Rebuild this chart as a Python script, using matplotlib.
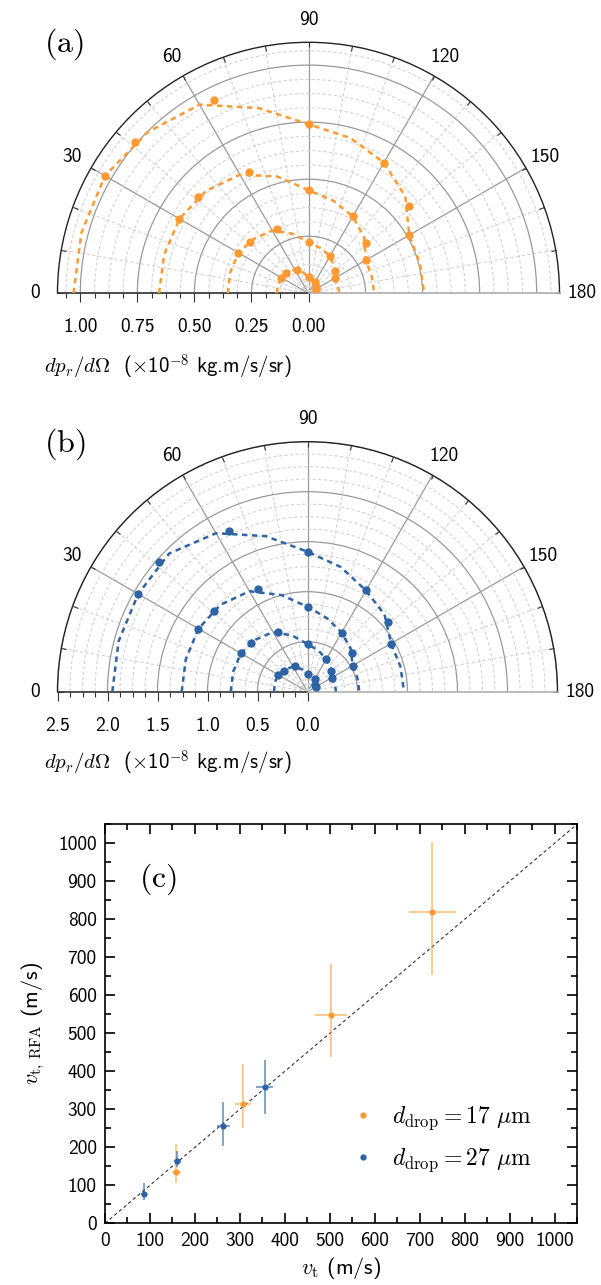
import numpy as np
import matplotlib
matplotlib.use('Agg')
import matplotlib.pyplot as plt
from matplotlib.ticker import MultipleLocator

plt.rcParams['font.family'] = ['cmss10', 'DejaVu Sans']
plt.rcParams['mathtext.fontset'] = 'cm'
plt.rcParams['axes.unicode_minus'] = False

ORANGE = '#ff9a33'
BLUE = '#2e64a5'

# ---------------- data: panel (a) ----------------
angles_pts = [30, 41, 64, 90, 120, 139, 150]
a_r1 = [1.031, 1.009, 0.941, 0.741, 0.661, 0.583, 0.508]
a_r2 = [0.653, 0.644, 0.591, 0.452, 0.389, 0.333, 0.290]
a_r3 = [0.355, 0.342, 0.313, 0.224, 0.189, 0.152, 0.135]
a_r4 = [0.138, 0.133, 0.116, 0.073, 0.059, 0.045, 0.038]

angles_fit = [0, 15, 30, 45, 60, 75, 90, 105, 120, 135, 150, 165, 180]
a_fit1 = [1.030, 1.030, 1.030, 0.998, 0.955, 0.840, 0.741, 0.705, 0.661, 0.600, 0.510, 0.505, 0.507]
a_fit2 = [0.655, 0.655, 0.653, 0.635, 0.600, 0.530, 0.452, 0.420, 0.389, 0.345, 0.290, 0.287, 0.288]
a_fit3 = [0.354, 0.355, 0.355, 0.338, 0.318, 0.270, 0.224, 0.205, 0.189, 0.160, 0.135, 0.134, 0.135]
a_fit4 = [0.139, 0.139, 0.138, 0.131, 0.120, 0.095, 0.073, 0.066, 0.059, 0.048, 0.038, 0.037, 0.037]

# ---------------- data: panel (b) ----------------
b_r1 = [1.952, 1.972, 1.792, 1.400, 1.169, 1.065, 0.963]
b_r2 = [1.259, 1.237, 1.140, 0.850, 0.683, 0.585, 0.524]
b_r3 = [0.770, 0.743, 0.667, 0.477, 0.376, 0.315, 0.282]
b_r4 = [0.342, 0.318, 0.283, 0.177, 0.143, 0.104, 0.095]

b_fit1 = [1.952, 1.955, 1.955, 1.955, 1.830, 1.610, 1.400, 1.290, 1.169, 1.090, 0.965, 0.963, 0.965]
b_fit2 = [1.258, 1.260, 1.259, 1.230, 1.160, 1.000, 0.850, 0.760, 0.683, 0.610, 0.522, 0.518, 0.518]
b_fit3 = [0.768, 0.770, 0.770, 0.735, 0.690, 0.580, 0.477, 0.425, 0.376, 0.330, 0.284, 0.284, 0.285]
b_fit4 = [0.335, 0.338, 0.342, 0.315, 0.290, 0.235, 0.177, 0.160, 0.143, 0.115, 0.100, 0.100, 0.100]

theta_ticks = [0, 30, 60, 90, 120, 150, 180]
theta_minor = [10, 20, 40, 50, 70, 80, 100, 110, 130, 140, 160, 170]

a_rticks = [0.0, 0.25, 0.5, 0.75, 1.0]
a_rlabels = ['0.00', '0.25', '0.50', '0.75', '1.00']
b_rticks = [0.0, 0.5, 1.0, 1.5, 2.0, 2.5]
b_rlabels = ['0.0', '0.5', '1.0', '1.5', '2.0', '2.5']

# ---------------- data: panel (c) ----------------
vt_17 = [158.7, 306.3, 502.6, 727.8]
vrfa_17 = [134.2, 314.0, 547.4, 818.4]
xerr_17 = [10, 18, 35, 52]
yerr_lo_17 = [27, 64, 110, 164]
yerr_hi_17 = [74, 105, 135, 184]

vt_27 = [87.0, 161.0, 263.5, 355.0]
vrfa_27 = [77.5, 164.8, 255.3, 359.6]
xerr_27 = [6, 8, 14, 19]
yerr_lo_27 = [16, 17, 52, 73]
yerr_hi_27 = [29, 25, 63, 70]

W, H = 601, 1285
fig = plt.figure(figsize=(W / 100, H / 100), dpi=100)


def polar_panel(cx, cy, rad, rmax, rticks, rlabels, rminor, pts, fits, color):
    # square box centred on the half-disc's bounding box (matplotlib keeps the wedge square)
    ycen = cy - rad / 2
    rect = [(cx - rad) / W, 1 - (ycen + rad) / H, 2 * rad / W, 2 * rad / H]
    ax = fig.add_axes(rect, projection='polar')
    ax.set_theta_zero_location('W')
    ax.set_theta_direction(-1)
    ax.set_thetamin(0)
    ax.set_thetamax(180)
    ax.set_rlim(0, rmax)
    ax.set_axisbelow(True)

    ax.set_xticks(np.deg2rad(theta_ticks))
    ax.set_xticklabels([str(t) for t in theta_ticks])
    ax.set_xticks(np.deg2rad(theta_minor), minor=True)
    ax.set_yticks(rticks)
    ax.set_yticklabels(rlabels)
    ax.yaxis.set_minor_locator(MultipleLocator(rminor))

    ax.grid(True, which='major', color='#9a9a9a', lw=0.9, ls='-')
    ax.grid(True, which='minor', color='#d4d4d4', lw=0.8, ls=(0, (3, 2)))

    ax.tick_params(axis='x', which='both', top=True, bottom=False)
    ax.tick_params(axis='y', which='both', left=True, right=False)
    ax.tick_params(axis='x', which='major', labelsize=14, pad=9,
                   direction='in', length=3.5, width=0.8, color='#333333')
    ax.tick_params(axis='x', which='minor', direction='in', length=3.5,
                   width=0.8, color='#333333')
    ax.tick_params(axis='y', which='major', labelsize=14, labelrotation=0,
                   length=6.5, width=0.8, color='#333333', pad=11.5)
    ax.tick_params(axis='y', which='minor', length=3.6, width=0.8,
                   color='#333333')

    ax.spines['polar'].set_color('#222222')
    ax.spines['polar'].set_linewidth(1.0)
    ax.spines['start'].set_color('#333333')
    ax.spines['start'].set_linewidth(1.2)
    ax.spines['end'].set_color('#b0b0b0')
    ax.spines['end'].set_linewidth(1.2)

    for fr in fits:
        ax.plot(np.deg2rad(angles_fit), fr, color=color, lw=1.8,
                ls=(0, (2.2, 1.8)), zorder=3)
    for pr in pts:
        ax.plot(np.deg2rad(angles_pts), pr, 'o', color=color, ms=6,
                mec='none', zorder=4)
    return ax


axa = polar_panel(308.5, 293.3, 251, 1.1, a_rticks, a_rlabels, 0.0625,
                  [a_r1, a_r2, a_r3, a_r4], [a_fit1, a_fit2, a_fit3, a_fit4], ORANGE)
axb = polar_panel(307.5, 691.7, 250, 2.5, b_rticks, b_rlabels, 0.125,
                  [b_r1, b_r2, b_r3, b_r4], [b_fit1, b_fit2, b_fit3, b_fit4], BLUE)

rlabel = r'$dp_r/d\Omega$  (${\times}$10$^{\mathsf{-8}}$ kg.m/s/sr)'
fig.text(44 / W, 1 - 367 / H, rlabel, fontsize=15, ha='left', va='center')
fig.text(44 / W, 1 - 763 / H, rlabel, fontsize=15, ha='left', va='center')

fig.text(64 / W, 1 - 44 / H, r'$\mathrm{(a)}$', fontsize=23, ha='center', va='center')
fig.text(65 / W, 1 - 444 / H, r'$\mathrm{(b)}$', fontsize=23, ha='center', va='center')

# ---------------- panel (c) ----------------
axc = fig.add_axes([105 / W, 1 - 1223.3 / H, 472 / W, 399 / H])
axc.set_xlim(0, 1050)
axc.set_ylim(0, 1050)
axc.plot([0, 1050], [0, 1050], color='#333333', lw=0.8, ls=(0, (3, 2.5)), zorder=1)

axc.errorbar(vt_17, vrfa_17, xerr=xerr_17, yerr=[yerr_lo_17, yerr_hi_17],
             fmt='none', ecolor=(1.0, 0.62, 0.22, 0.7), elinewidth=1.1, capsize=0, zorder=2)
axc.errorbar(vt_27, vrfa_27, xerr=xerr_27, yerr=[yerr_lo_27, yerr_hi_27],
             fmt='none', ecolor=(0.18, 0.39, 0.65, 0.75), elinewidth=1.1, capsize=0, zorder=2)
axc.plot(vt_17, vrfa_17, 'o', color=ORANGE, ms=4.5, mec='none', zorder=3,
         label=r'$d_{\mathrm{drop}}=17\ \mu\mathrm{m}$')
axc.plot(vt_27, vrfa_27, 'o', color=BLUE, ms=4.5, mec='none', zorder=3,
         label=r'$d_{\mathrm{drop}}=27\ \mu\mathrm{m}$')

axc.xaxis.set_major_locator(MultipleLocator(100))
axc.xaxis.set_minor_locator(MultipleLocator(50))
axc.yaxis.set_major_locator(MultipleLocator(100))
axc.yaxis.set_minor_locator(MultipleLocator(50))
axc.tick_params(which='both', direction='in', top=True, right=True,
                width=1.2, color='black')
axc.tick_params(which='major', length=7, labelsize=14, pad=6)
axc.tick_params(which='minor', length=4)
for s in axc.spines.values():
    s.set_linewidth(1.2)

axc.set_xlabel(r'$v_{\mathrm{t}}$ (m/s)', fontsize=16, labelpad=4)
axc.set_ylabel(r'$v_{\mathrm{t,\,RFA}}$ (m/s)', fontsize=16, labelpad=8)
axc.text(0.112, 0.863, r'$\mathrm{(c)}$', transform=axc.transAxes, fontsize=23,
         ha='center', va='center')

axc.legend(loc='center left', bbox_to_anchor=(0.5216, 0.21), frameon=False,
           fontsize=17, handlelength=1.0, handletextpad=0.73, borderpad=0,
           borderaxespad=0, labelspacing=0.6, markerscale=1.0)

fig.savefig('out.png', dpi=100)
